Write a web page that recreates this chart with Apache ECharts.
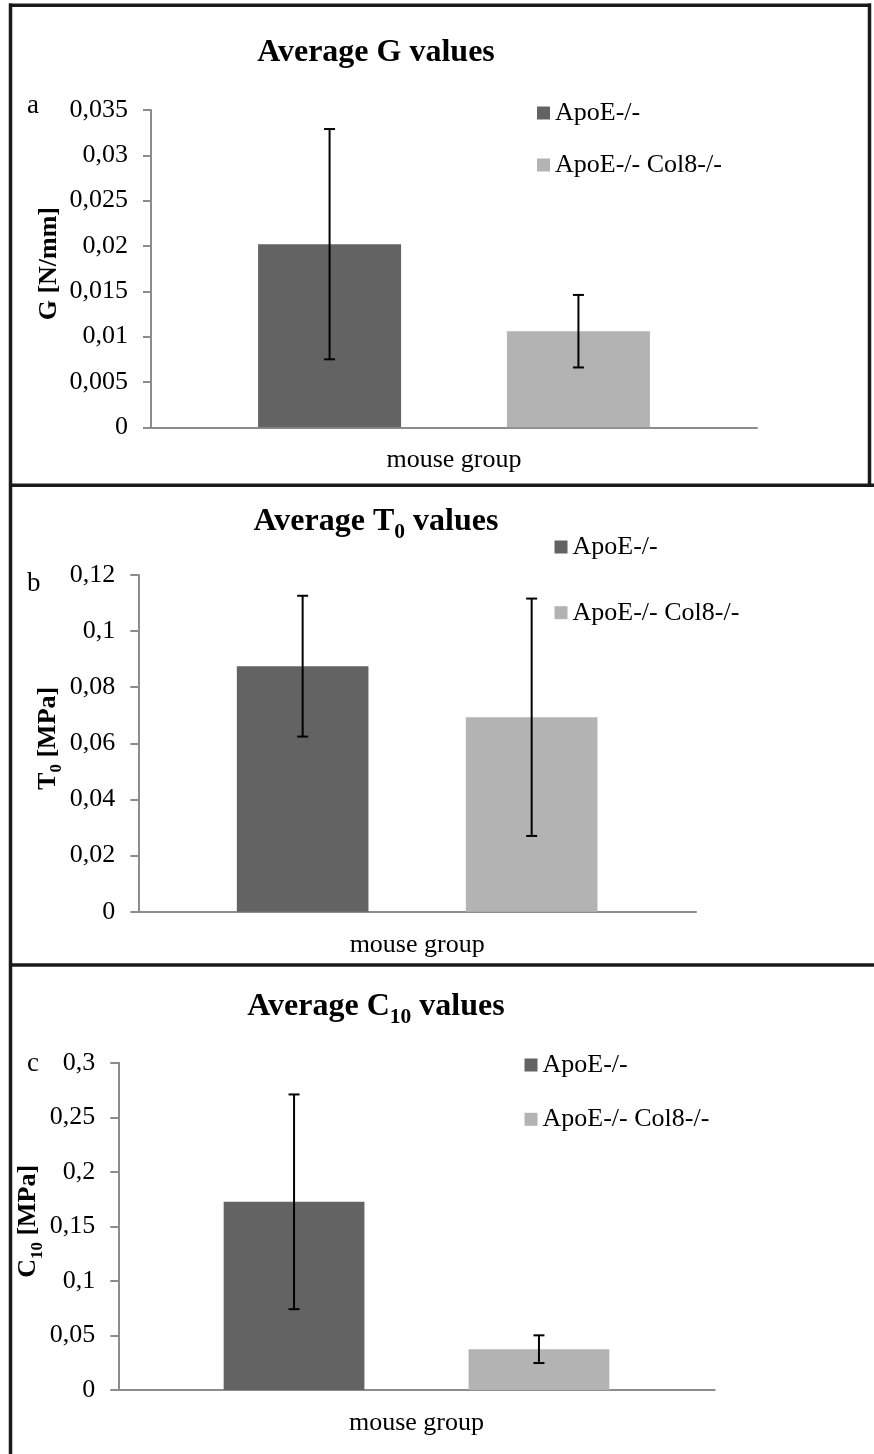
<!DOCTYPE html>
<html>
<head>
<meta charset="utf-8">
<script src="https://cdn.jsdelivr.net/npm/echarts@6/dist/echarts.min.js"></script>
<style>
  html, body { margin: 0; padding: 0; background: #ffffff; }
  #chart { width: 874px; height: 1454px; }
</style>
</head>
<body>
<div id="chart"></div>
<script>
// ---- data ----
const groups = ['ApoE-/-', 'ApoE-/- Col8-/-'];
const category = ['mouse group'];

// a: shear modulus G
const gMean = [0.0202, 0.0106];
const gErr = [0.0127, 0.0040];
const gTicks = ['0', '0,005', '0,01', '0,015', '0,02', '0,025', '0,03', '0,035'];

// b: T0
const t0Mean = [0.0875, 0.0693];
const t0Err = [0.0251, 0.0423];
const t0Ticks = ['0', '0,02', '0,04', '0,06', '0,08', '0,1', '0,12'];

// c: C10
const c10Mean = [0.1725, 0.0374];
const c10Err = [0.0984, 0.0127];
const c10Ticks = ['0', '0,05', '0,1', '0,15', '0,2', '0,25', '0,3'];

// ---- styling ----
const FONT = 'Liberation Serif';
const COLORS = ['#636363', '#b3b3b3'];
const AXIS_GREY = '#8c8c8c';
const BAR_W = 0.236;          // bar width as a fraction of the category band
const BAR_GAP = 0.74;         // gap between the two bars, relative to bar width
const CENTER_OFF = BAR_W * (1 + BAR_GAP) / 2;

const panels = [
  { mean: gMean, err: gErr, ticks: gTicks, interval: 0.005,
    title: '{m|Average G values}', yName: '{m|G [N/mm]}', letter: 'a',
    grid: { left: 151, top: 110, width: 606, height: 317.3 },
    nameGap: 84.5, titleY: 52.5, letterY: 106.2,
    legend: { left: 537, top: 100, itemGap: 26 } },
  { mean: t0Mean, err: t0Err, ticks: t0Ticks, interval: 0.02,
    title: '{m|Average T}{s|0}{m| values}', yName: '{m|T}{s|0}{m| [MPa]}', letter: 'b',
    grid: { left: 138.3, top: 575, width: 557.7, height: 336.7 },
    nameGap: 72.8, titleY: 522.2, letterY: 584.2,
    legend: { left: 554.5, top: 534, itemGap: 39.7 } },
  { mean: c10Mean, err: c10Err, ticks: c10Ticks, interval: 0.05,
    title: '{m|Average C}{s|10}{m| values}', yName: '{m|C}{s|10}{m| [MPa]}', letter: 'c',
    grid: { left: 118.3, top: 1062.7, width: 596.4, height: 327.3 },
    nameGap: 72.5, titleY: 1007.2, letterY: 1064.2,
    legend: { left: 524.5, top: 1052, itemGap: 28.3 } }
];

const titleRich = {
  m: { fontFamily: FONT, fontWeight: 'bold', fontSize: 32, lineHeight: 43, color: '#000' },
  s: { fontFamily: FONT, fontWeight: 'bold', fontSize: 21.5, lineHeight: 20, verticalAlign: 'bottom', color: '#000' }
};
const nameRich = {
  m: { fontFamily: FONT, fontWeight: 'bold', fontSize: 26, lineHeight: 35, color: '#000' },
  s: { fontFamily: FONT, fontWeight: 'bold', fontSize: 17, lineHeight: 17, verticalAlign: 'bottom', color: '#000' }
};

const grid = [], xAxis = [], yAxis = [], series = [], legend = [], graphic = [];

panels.forEach((p, i) => {
  grid.push(Object.assign({ containLabel: false }, p.grid));

  xAxis.push({
    type: 'category', gridIndex: i, data: category,
    axisLine: { lineStyle: { color: AXIS_GREY, width: 2 } },
    axisTick: { show: false },
    axisLabel: { fontFamily: FONT, fontSize: 26, color: '#000', margin: 20, lineHeight: 26 }
  });

  yAxis.push({
    type: 'value', gridIndex: i, min: 0,
    max: (p.ticks.length - 1) * p.interval, interval: p.interval,
    splitLine: { show: false },
    axisLine: { show: true, lineStyle: { color: AXIS_GREY, width: 2 } },
    axisTick: { show: true, length: 8, lineStyle: { color: AXIS_GREY, width: 2 } },
    axisLabel: {
      fontFamily: FONT, fontSize: 26, color: '#000', margin: 23,
      formatter: v => p.ticks[Math.round(v / p.interval)]
    },
    name: p.yName, nameLocation: 'middle', nameGap: p.nameGap, nameRotate: 90,
    nameMoveOverlap: false,
    nameTextStyle: { rich: nameRich, padding: [0, 0, 0, 10] }
  });

  groups.forEach((g, k) => {
    series.push({
      type: 'bar', name: g, xAxisIndex: i, yAxisIndex: i,
      data: [p.mean[k]],
      barWidth: (BAR_W * 100) + '%', barGap: (BAR_GAP * 100) + '%',
      itemStyle: { color: COLORS[k] },
      emphasis: { disabled: true }
    });
  });

  // error bars (mean ± error), placed over each bar
  series.push({
    type: 'custom', name: 'error', xAxisIndex: i, yAxisIndex: i, z: 10,
    data: p.mean.map((m, k) => [0, m + p.err[k], m - p.err[k], k === 0 ? -1 : 1]),
    encode: { x: 0, y: [1, 2] },
    renderItem: (params, api) => {
      const band = api.size([1, 0])[0];
      const top = api.coord([0, api.value(1)]);
      const bot = api.coord([0, api.value(2)]);
      const x = top[0] + api.value(3) * CENTER_OFF * band;
      const st = { stroke: '#000', lineWidth: 2 };
      return { type: 'group', children: [
        { type: 'line', shape: { x1: x, y1: top[1], x2: x, y2: bot[1] }, style: st },
        { type: 'line', shape: { x1: x - 5.5, y1: top[1], x2: x + 5.5, y2: top[1] }, style: st },
        { type: 'line', shape: { x1: x - 5.5, y1: bot[1], x2: x + 5.5, y2: bot[1] }, style: st }
      ] };
    }
  });

  legend.push({
    orient: 'vertical', left: p.legend.left, top: p.legend.top, itemGap: p.legend.itemGap,
    data: groups, icon: 'rect', itemWidth: 13, itemHeight: 13, padding: 0,
    textStyle: { fontFamily: FONT, fontSize: 26, color: '#000', lineHeight: 26 },
    selectedMode: false
  });

  graphic.push({
    type: 'text', x: 376, y: p.titleY,
    style: { text: p.title, rich: titleRich, align: 'center', verticalAlign: 'middle' }
  });
  graphic.push({
    type: 'text', x: 27, y: p.letterY,
    style: { text: p.letter, fontFamily: FONT, fontSize: 27, fill: '#000', align: 'left', verticalAlign: 'middle' }
  });
});

// panel frames
const frame = { stroke: '#1a1a1a', lineWidth: 3.5 };
graphic.push(
  { type: 'line', shape: { x1: 10.5, y1: 3.5, x2: 10.5, y2: 1454 }, style: frame },
  { type: 'line', shape: { x1: 9, y1: 5.3, x2: 871, y2: 5.3 }, style: frame },
  { type: 'line', shape: { x1: 869.5, y1: 3.5, x2: 869.5, y2: 485 }, style: frame },
  { type: 'line', shape: { x1: 9, y1: 485.3, x2: 874, y2: 485.3 }, style: frame },
  { type: 'line', shape: { x1: 9, y1: 965, x2: 874, y2: 965 }, style: frame }
);

const chart = echarts.init(document.getElementById('chart'), null, { renderer: 'canvas' });
chart.setOption({
  animation: false,
  backgroundColor: '#ffffff',
  grid, xAxis, yAxis, series, legend, graphic
});
</script>
</body>
</html>
